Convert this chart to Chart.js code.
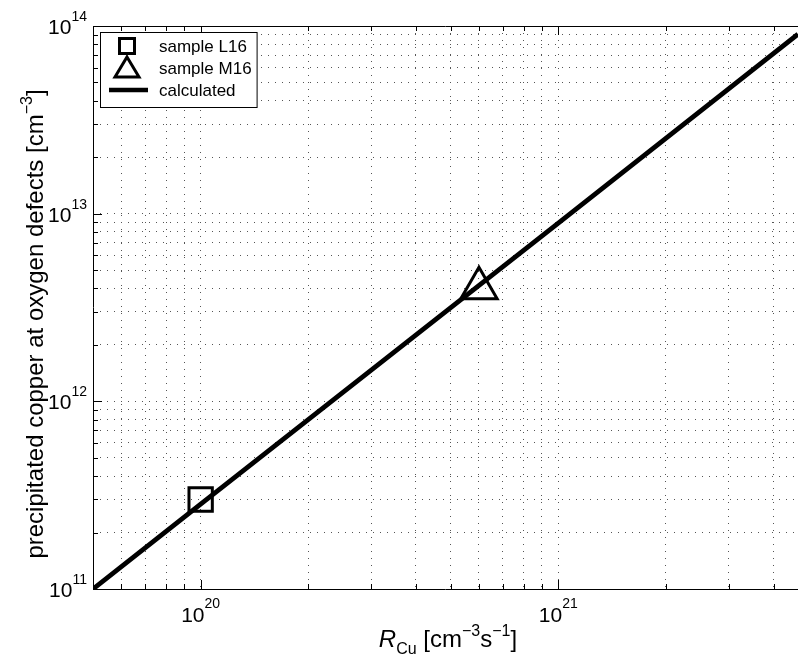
<!DOCTYPE html>
<html>
<head>
<meta charset="utf-8">
<script src="https://cdn.jsdelivr.net/npm/chart.js@4.4.1/dist/chart.umd.min.js"></script>
<style>
  html, body { margin: 0; padding: 0; background: #fff; overflow: hidden; }
  #wrap { width: 798px; height: 659px; position: relative; }
</style>
</head>
<body>
<div id="wrap"><canvas id="c" width="798" height="659"></canvas></div>
<script>
// ---- data ----
const sampleL16X = [1e20];
const sampleL16Y = [3e11];
const sampleM16X = [6e20];
const sampleM16Y = [4e12];
const calculatedX = [5e19, 1e20, 1e21, 4.68e21];
const calculatedY = [1e11, 2.83e11, 8.9e12, 9.05e13];
const legendLabels = ['sample L16', 'sample M16', 'calculated'];
const xTickExponents = [20, 21];
const yTickExponents = [11, 12, 13, 14];
const xRange = [5e19, 4.68e21];
const yRange = [1e11, 1e14];
const yTitleText = 'precipitated copper at oxygen defects [cm';
const xTitleMain = 'R';
const xTitleSub = 'Cu';

const FONT = '"Liberation Sans", Arial, Helvetica, sans-serif';

function logTicks(min, max) {
  const out = [];
  const e0 = Math.floor(Math.log10(min)), e1 = Math.ceil(Math.log10(max));
  for (let e = e0; e <= e1; e++) {
    for (let m = 1; m <= 9; m++) {
      const v = m * Math.pow(10, e);
      if (v >= min * 0.9999 && v <= max * 1.0001) out.push({ value: v, major: m === 1 });
    }
  }
  return out;
}

function pts(xs, ys) { return xs.map((x, i) => ({ x: x, y: ys[i] })); }

const DOT = [1, 6];

const decoPlugin = {
  id: 'deco',
  afterDraw(chart) {
    const ctx = chart.ctx;
    const ca = chart.chartArea;
    const xs = chart.scales.x, ys = chart.scales.y;
    ctx.save();
    // frame
    ctx.strokeStyle = '#000';
    ctx.lineWidth = 1;
    ctx.beginPath();
    ctx.moveTo(ca.left, ca.top + 0.5);
    ctx.lineTo(ca.right, ca.top + 0.5);
    ctx.moveTo(ca.left + 0.5, ca.top);
    ctx.lineTo(ca.left + 0.5, ca.bottom);
    ctx.moveTo(ca.left, ca.bottom + 0.5);
    ctx.lineTo(ca.right, ca.bottom + 0.5);
    ctx.stroke();
    // inward ticks
    ctx.beginPath();
    xs.ticks.forEach(t => {
      const px = Math.round(xs.getPixelForValue(t.value)) + 0.5;
      const L = t.major ? 9 : 5;
      ctx.moveTo(px, ca.bottom); ctx.lineTo(px, ca.bottom - L);
      ctx.moveTo(px, ca.top); ctx.lineTo(px, ca.top + L);
    });
    ys.ticks.forEach(t => {
      const py = Math.round(ys.getPixelForValue(t.value)) + 0.5;
      const L = t.major ? 9 : 5;
      ctx.moveTo(ca.left, py); ctx.lineTo(ca.left + L, py);
    });
    ctx.stroke();

    // tick labels with superscripts
    ctx.fillStyle = '#000';
    ctx.textBaseline = 'alphabetic';
    const TF = '21px ' + FONT, EF = '14px ' + FONT;
    xTickExponents.forEach(e => {
      const px = xs.getPixelForValue(Math.pow(10, e));
      ctx.font = TF;
      const w1 = ctx.measureText('10').width;
      ctx.font = EF;
      const w2 = ctx.measureText(String(e)).width;
      const x0 = px - (w1 + w2) / 2;
      ctx.font = TF;
      ctx.fillText('10', x0, ca.bottom + 33);
      ctx.font = EF;
      ctx.fillText(String(e), x0 + w1, ca.bottom + 19);
    });
    yTickExponents.forEach(e => {
      const py = ys.getPixelForValue(Math.pow(10, e));
      ctx.font = EF;
      const w2 = ctx.measureText(String(e)).width;
      ctx.font = TF;
      const w1 = ctx.measureText('10').width;
      const xr = ca.left - 6;
      ctx.fillText('10', xr - w2 - w1, py + 8);
      ctx.font = EF;
      ctx.fillText(String(e), xr - w2, py - 5);
    });

    // x title: R_Cu [cm^-3 s^-1]
    const BF = '24px ' + FONT, SF = '16px ' + FONT;
    const parts = [
      { t: xTitleMain, f: 'italic ' + BF, dy: 0 },
      { t: xTitleSub, f: SF, dy: 7 },
      { t: ' [cm', f: BF, dy: 0 },
      { t: '\u22123', f: SF, dy: -11 },
      { t: 's', f: BF, dy: 0 },
      { t: '\u22121', f: SF, dy: -11 },
      { t: ']', f: BF, dy: 0 }
    ];
    let tw = 0;
    parts.forEach(p => { ctx.font = p.f; p.w = ctx.measureText(p.t).width; tw += p.w; });
    let x = 448 - tw / 2;
    const base = 647;
    parts.forEach(p => { ctx.font = p.f; ctx.fillText(p.t, x, base + p.dy); x += p.w; });

    // y title (rotated)
    const yparts = [
      { t: yTitleText, f: BF, dy: 0 },
      { t: '\u22123', f: SF, dy: -11 },
      { t: ']', f: BF, dy: 0 }
    ];
    let yw = 0;
    yparts.forEach(p => { ctx.font = p.f; p.w = ctx.measureText(p.t).width; yw += p.w; });
    ctx.save();
    ctx.translate(43, 324);
    ctx.rotate(-Math.PI / 2);
    let yx = -yw / 2;
    yparts.forEach(p => { ctx.font = p.f; ctx.fillText(p.t, yx, p.dy); yx += p.w; });
    ctx.restore();

    // legend
    const LF = '17px ' + FONT;
    const lx = ca.left + 7, ly = ca.top + 6;
    ctx.font = LF;
    let maxw = 0;
    legendLabels.forEach(l => { maxw = Math.max(maxw, ctx.measureText(l).width); });
    const tx = lx + 59;
    const lw = (tx - lx) + maxw + 5, lh = 75;
    ctx.fillStyle = '#fff';
    ctx.fillRect(lx, ly, lw, lh);
    ctx.strokeStyle = '#000';
    ctx.lineWidth = 1;
    ctx.strokeRect(lx + 0.5, ly + 0.5, lw, lh);
    const rows = [ly + 14, ly + 36, ly + 58];
    const mx = lx + 27;
    ctx.lineWidth = 3;
    ctx.lineJoin = 'miter';
    ctx.strokeRect(mx - 7.5, rows[0] - 7.5, 15, 15);
    ctx.beginPath();
    ctx.moveTo(mx, rows[1] - 11);
    ctx.lineTo(mx + 12, rows[1] + 9);
    ctx.lineTo(mx - 12, rows[1] + 9);
    ctx.closePath();
    ctx.stroke();
    ctx.lineWidth = 4.5;
    ctx.beginPath();
    ctx.moveTo(lx + 9, rows[2]);
    ctx.lineTo(lx + 48, rows[2]);
    ctx.stroke();
    ctx.fillStyle = '#000';
    ctx.textBaseline = 'middle';
    ctx.font = LF;
    legendLabels.forEach((l, i) => ctx.fillText(l, tx, rows[i] + 1));
    ctx.restore();
  }
};

const chart = new Chart(document.getElementById('c'), {
  type: 'scatter',
  data: {
    datasets: [
      {
        label: legendLabels[0],
        data: pts(sampleL16X, sampleL16Y),
        pointStyle: 'rect',
        pointRadius: 16.5,
        borderColor: '#000',
        backgroundColor: 'rgba(0,0,0,0)',
        borderWidth: 3,
        order: 2
      },
      {
        label: legendLabels[1],
        data: pts(sampleM16X, sampleM16Y),
        pointStyle: 'triangle',
        pointRadius: 21,
        borderColor: '#000',
        backgroundColor: 'rgba(0,0,0,0)',
        borderWidth: 3,
        order: 2
      },
      {
        label: legendLabels[2],
        type: 'line',
        data: pts(calculatedX, calculatedY),
        borderColor: '#000',
        borderWidth: 4.8,
        pointRadius: 0,
        showLine: true,
        fill: false,
        tension: 0,
        order: 1
      }
    ]
  },
  options: {
    responsive: false,
    animation: false,
    devicePixelRatio: 1,
    layout: { autoPadding: false, padding: { left: 0, right: 0, top: 26, bottom: 0 } },
    plugins: { legend: { display: false }, tooltip: { enabled: false } },
    scales: {
      x: {
        type: 'logarithmic',
        min: xRange[0],
        max: xRange[1],
        afterBuildTicks(s) { s.ticks = logTicks(xRange[0], xRange[1]).filter(t => t.value > xRange[0] * 1.001); },
        afterFit(s) { s.height = 70; },
        ticks: { display: false },
        grid: { color: '#555', lineWidth: 1, drawTicks: false },
        border: { display: false, dash: DOT }
      },
      y: {
        type: 'logarithmic',
        min: yRange[0],
        max: yRange[1],
        afterBuildTicks(s) { s.ticks = logTicks(yRange[0], yRange[1]).filter(t => t.value > yRange[0] * 1.001 && t.value < yRange[1] * 0.999); },
        afterFit(s) { s.width = 93; },
        ticks: { display: false },
        grid: { color: '#555', lineWidth: 1, drawTicks: false },
        border: { display: false, dash: DOT }
      }
    }
  },
  plugins: [decoPlugin]
});
</script>
</body>
</html>
